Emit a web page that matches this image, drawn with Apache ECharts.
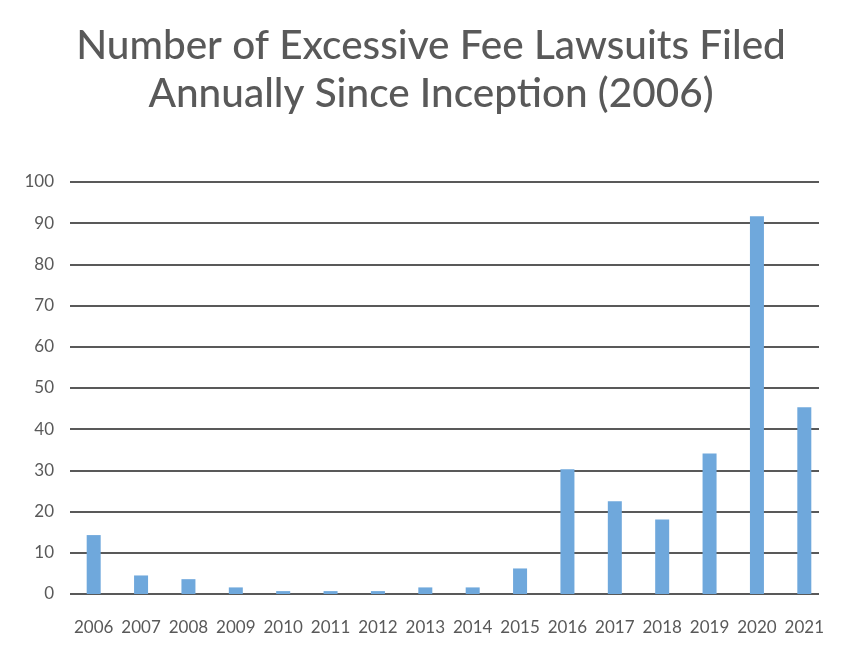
<!DOCTYPE html>
<html>
<head>
<meta charset="utf-8">
<script src="https://cdn.jsdelivr.net/npm/echarts@6/dist/echarts.min.js"></script>
<style>
  html, body { margin: 0; padding: 0; background: #fff; }
  #chart { width: 867px; height: 656px; }
</style>
</head>
<body>
<div id="chart"></div>
<script>
// data
const years = ["2006", "2007", "2008", "2009", "2010", "2011", "2012", "2013",
  "2014", "2015", "2016", "2017", "2018", "2019", "2020", "2021"];
const lawsuits = [14.3, 4.5, 3.6, 1.6, 0.7, 0.7, 0.7, 1.6,
  1.6, 6.2, 30.3, 22.5, 18.1, 34.1, 91.7, 45.3];
const titleText = "Number of Excessive Fee Lawsuits Filed\nAnnually Since Inception (2006)";

const textColor = "#595959";
const chart = echarts.init(document.getElementById("chart"));

const option = {
  backgroundColor: "#fff",
  animation: false,
  title: {
    text: titleText,
    left: 426,
    textAlign: "center",
    top: 17,
    textStyle: {
      fontFamily: "Lato",
      fontWeight: 500,
      fontSize: 40.5,
      lineHeight: 48,
      color: textColor,
    },
  },
  // grid 0 carries the gridlines (they stop a bit short of the last bar),
  // grid 1 carries the bars and year labels
  grid: [
    { left: 70, right: 48, top: 182, bottom: 62 },
    { left: 70, right: 39, top: 182, bottom: 62 },
  ],
  xAxis: [
    {
      gridIndex: 0,
      type: "category",
      data: years,
      show: false,
    },
    {
      gridIndex: 1,
      type: "category",
      data: years,
      axisLine: { show: false },
      axisTick: { show: false },
      axisLabel: {
        interval: 0,
        margin: 25,
        fontFamily: "Lato",
        fontSize: 17,
        color: textColor,
      },
    },
  ],
  yAxis: [
    {
      gridIndex: 0,
      type: "value",
      min: 0,
      max: 100,
      interval: 10,
      axisLine: { show: false },
      axisTick: { show: false },
      axisLabel: {
        margin: 16,
        fontFamily: "Lato",
        fontSize: 17,
        color: textColor,
      },
      splitLine: {
        lineStyle: { color: "#595959", width: 2 },
      },
    },
    {
      gridIndex: 1,
      type: "value",
      min: 0,
      max: 100,
      interval: 10,
      show: false,
      splitLine: { show: false },
    },
  ],
  series: [
    {
      type: "bar",
      xAxisIndex: 1,
      yAxisIndex: 1,
      data: lawsuits,
      barWidth: 14,
      itemStyle: { color: "#6fa8dc" },
      z: 3,
    },
  ],
};
chart.setOption(option);
</script>
</body>
</html>
